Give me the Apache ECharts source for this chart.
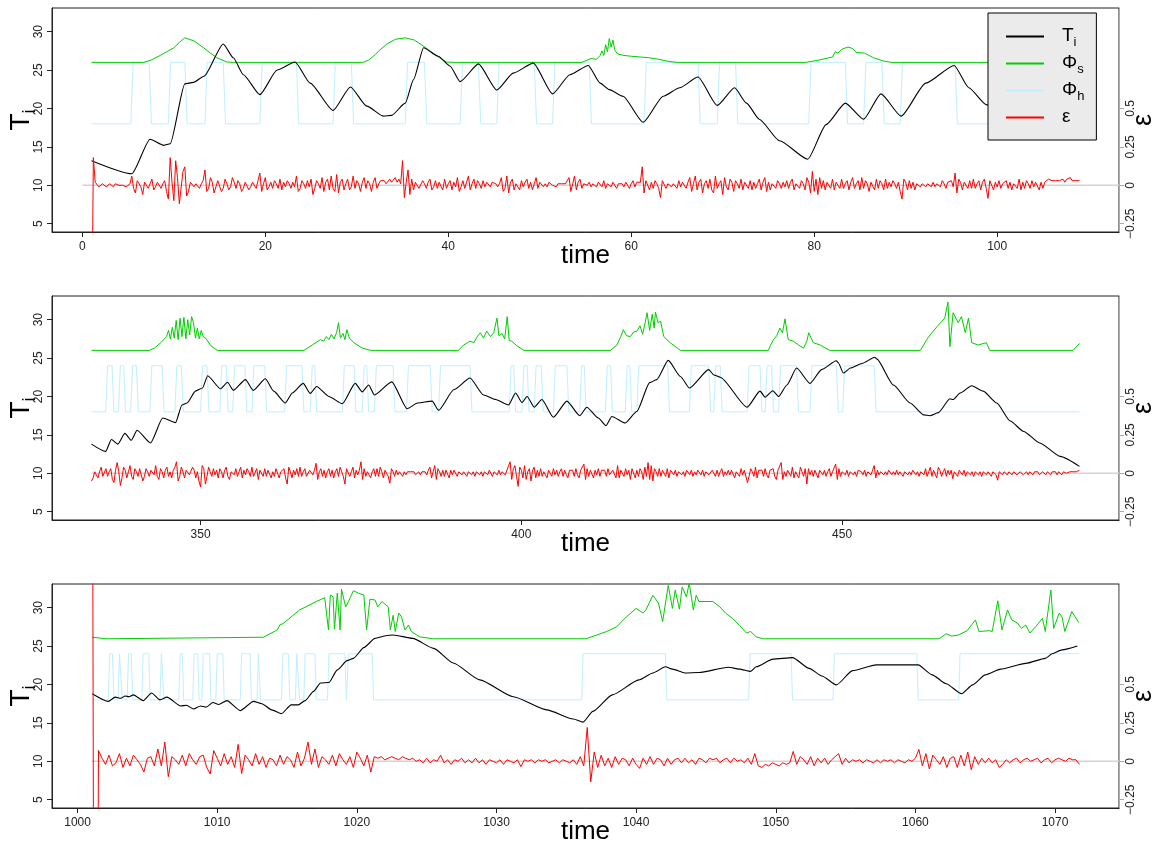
<!DOCTYPE html>
<html>
<head>
<meta charset="utf-8">
<title>Ti, Phi_s, Phi_h, eps</title>
<script src="https://cdn.jsdelivr.net/npm/echarts@6/dist/echarts.min.js"></script>
<style>
  html, body { margin: 0; background: #fff; }
  #chart { width: 1161px; height: 846px; }
</style>
</head>
<body>
<div id="chart"></div>
<script>
// ---- tick labels ----
const tiTicks = [5, 10, 15, 20, 25, 30];
const epsTicks = [-0.25, 0, 0.25, 0.5];
const timeTicks1 = [0, 20, 40, 60, 80, 100];
const timeTicks2 = [350, 400, 450];
const timeTicks3 = [1000, 1010, 1020, 1030, 1040, 1050, 1060, 1070];

// ---- panel 1 (time 1..109) ----
const ti1 = [[1,13.2],[5.4,11.5],[7.4,16.0],[8.9,15.2],[9.6,15.4],[11.2,23.2],[12.15,23.4],[13.3,24.2],[15.4,28.4],[16.5,26.6],[17.6,24.4],[19.4,21.8],[21.3,25.0],[23.25,26.05],[24.9,23.3],[27.4,19.75],[29.3,22.8],[31.1,20.3],[32.9,19.0],[33.8,19.1],[35.3,20.7],[36.2,23.75],[37.3,27.9],[38.9,26.8],[40.2,25.5],[41.3,23.5],[43.3,25.8],[45.3,22.4],[47.1,24.6],[49.3,25.9],[51.4,21.9],[53.3,24.4],[55.3,25.6],[56.6,23.3],[57.6,22.45],[59.1,21.6],[61.3,18.2],[63.5,21.6],[65.3,22.7],[67.3,24.1],[69.4,20.4],[71.3,22.7],[72.6,20.7],[74.0,18.6],[76.2,15.8],[79.3,13.4],[81.3,17.9],[83.4,20.7],[85.4,18.6],[87.3,21.9],[89.5,19.0],[92.2,23.3],[95.3,25.6],[96.9,22.7],[98.8,20.5],[102,18.5],[109,17.0]];
const phiS1 = [[1,26],[6.7,26],[7.5,26.3],[8.5,26.9],[10,27.9],[10.6,28.6],[11.2,29.2],[12.2,28.8],[13.2,27.95],[14,27.2],[14.7,26.6],[15.8,26.05],[16.5,26],[30.7,26],[31.3,26.3],[32.0,27.0],[32.5,27.6],[33.3,28.4],[34.2,29.0],[35.3,29.2],[36.3,28.9],[37.3,28.1],[38.2,27.3],[38.9,26.7],[39.8,26.05],[40.5,26],[54.6,26],[55.0,26.2],[55.6,26.5],[56.2,26.4],[56.6,26.9],[56.8,27.5],[57.0,26.9],[57.2,28.3],[57.4,27.4],[57.6,29.1],[57.8,28.0],[58.0,28.9],[58.2,27.6],[58.5,27.1],[59.2,26.9],[60,26.8],[61,26.7],[62,26.6],[63,26.4],[64,26.15],[65,26],[79.1,26],[80.5,26.3],[81.6,26.6],[82.0,26.7],[82.3,27.4],[82.6,27.2],[83.0,27.7],[83.7,28.0],[84.2,27.8],[84.6,27.3],[85.5,27.2],[86.5,26.6],[87.5,26.2],[88.4,26],[109,26]];
const heaterOn1 = [[5.3,7.3],[9.4,11.2],[13.4,15.4],[19.4,23.4],[27.4,29.4],[35.3,37.4],[41.3,43.3],[45.3,49.4],[51.4,55.4],[61.4,67.3],[69.4,71.4],[79.4,83.4],[85.4,87.4],[89.4,95.4]];
// residuals, one every 0.2 from t = 1
const eps1 = [-1.2,.18,.02,.01,-.01,0,.01,.01,-.01,0,
  .01,0,-.01,.01,.02,0,-.01,0,.01,-.01,
  0,.01,.06,-.02,-.05,.03,.04,-.01,-.06,.02,
  .03,-.02,.01,.04,-.03,-.01,.02,.03,-.02,.01,
  .03,-.04,-.09,.18,.02,-.1,.16,.05,-.12,-.13,
  .09,.12,-.07,-.04,.02,.03,-.01,.01,.02,-.02,
  .01,.03,.1,-.04,-.02,.05,.02,-.05,-.01,.03,
  .02,-.04,-.02,.04,.01,-.03,-.01,.05,.02,-.02,
  .03,.01,-.04,-.02,.02,.03,-.03,-.01,.02,.01,
  -.02,.03,.08,-.04,.01,.05,-.03,-.01,.02,-.02,
  .03,.01,-.02,.04,-.03,.02,-.01,.03,.01,-.02,
  .02,-.01,.06,-.04,-.02,.03,.01,-.02,.03,-.01,
  .04,-.06,-.02,.03,.01,-.02,.05,-.04,.02,.04,
  -.03,.06,-.02,-.04,.07,-.05,.02,.04,-.03,.01,
  .04,-.03,-.01,.06,-.02,.03,.01,-.04,.02,.05,
  -.02,.03,.01,-.04,.02,.05,-.02,.01,.03,.02,
  .03,.01,.02,.04,.02,.03,.05,.02,.04,.01,
  .16,-.08,.02,.1,-.06,.04,-.03,.02,.03,-.02,
  -.03,.03,.01,-.02,.02,.04,-.03,-.01,.03,-.02,
  .02,.01,-.03,.04,-.02,.01,.03,-.03,.02,-.01,
  .05,-.04,-.01,.03,-.02,.02,.06,-.03,.01,.04,
  -.02,.03,.01,-.02,.03,-.01,.02,.01,-.01,.02,
  .02,.01,-.01,.01,.05,-.04,-.02,.06,-.05,.02,
  .04,-.03,.01,.02,-.03,.03,-.01,.02,.04,-.02,
  .02,-.03,.01,.05,-.02,.02,.03,-.01,.01,-.01,
  .02,.01,0,.01,-.01,.01,0,.01,.02,.01,
  .02,.05,-.04,.01,.06,-.03,.02,.04,-.02,.01,
  .01,0,.02,-.01,.01,.02,-.01,.02,.01,-.01,
  .03,-.02,.01,.02,-.01,.02,.01,-.02,.01,.02,
  .01,-.01,.02,.01,-.02,.01,.03,-.01,.02,.01,
  .02,.12,-.05,.03,.04,-.03,.02,-.02,.03,.01,
  -.02,-.08,.03,.02,-.02,.01,.02,-.01,.01,.02,
  -.02,.03,-.01,.02,.01,-.02,.02,.05,-.04,.01,
  .06,-.03,.02,.04,-.05,.01,.03,-.02,.04,-.03,
  -.05,.06,-.02,.01,.03,-.06,.05,-.01,-.03,.04,
  .02,-.04,.03,.01,-.02,.04,-.03,.02,.01,-.02,
  .03,-.03,.02,-.02,.01,.04,-.03,.02,.05,-.04,
  .02,-.03,.01,.02,-.02,.03,.01,-.02,.02,-.01,
  .03,-.02,.02,.04,-.03,.01,.02,-.02,.03,.01,
  -.03,.05,.02,-.05,.09,-.04,.04,-.06,.05,-.02,
  .03,-.03,.02,.01,-.02,.04,-.03,.02,.03,-.02,
  .04,-.02,.01,.03,-.03,.02,.05,-.02,.01,.03,
  -.03,.05,-.02,.03,.01,-.04,.02,.03,-.03,.04,
  -.02,.03,.01,-.03,.04,-.02,.02,-.01,.03,.01,
  -.02,.02,-.04,-.09,.04,.02,-.03,.03,-.02,.02,
  -.03,.01,.02,-.01,.01,.02,-.01,.01,.02,-.01,
  .02,-.01,.01,.02,-.01,.03,.01,-.02,.02,.01,
  .03,-.01,.08,-.05,.04,.02,-.03,.02,.03,-.02,
  .03,-.02,.04,-.02,.01,.03,-.03,.02,.04,-.02,
  -.085,.03,.02,-.03,.02,-.01,.03,-.02,.01,.02,
  .03,-.02,.02,-.03,.01,.02,-.02,.04,-.03,.02,
  -.02,.03,.01,-.02,.03,-.01,.02,.01,-.03,.02,
  -.02,.02,.03,.04,.05,.03,.04,.03,.04,.03,
  .03,.04,.02,.04,.03,.05,.03,.04,.03,.03,
  .03];

// ---- panel 2 (time 333..487) ----
const ti2 = [[333,13.8],[335.2,12.85],[336.1,14.4],[337.1,13.8],[338.2,15.2],[339.2,14.3],[340.1,15.6],[342.2,13.95],[344.1,17.2],[346.1,16.6],[347.1,18.9],[347.9,19.15],[349.2,20.7],[350.3,21.1],[351.1,22.7],[353.1,21.0],[354.2,21.85],[355.1,20.8],[357.0,22.2],[358.2,20.8],[360.1,22.3],[361.4,20.7],[363.2,19.15],[364.3,20.45],[366.0,21.7],[367.1,20.4],[368.1,21.3],[370.0,20.0],[372.1,19.05],[374.1,21.7],[375.2,20.6],[376.2,21.5],[377.1,20.2],[379.8,21.9],[382.2,18.4],[383.8,19.15],[386.1,19.4],[387.1,18.2],[389.5,20.9],[392.0,22.4],[394.1,20.2],[396.0,19.6],[398.0,18.9],[399.1,20.45],[400.1,19.2],[400.9,20.0],[402.0,18.6],[403.2,19.6],[405.0,17.3],[407.1,19.4],[409.1,17.5],[410.2,18.6],[412.0,17.2],[413.2,16.2],[414.1,17.4],[416.2,16.55],[418.0,18.05],[420.0,21.8],[421.1,22.2],[422.9,24.7],[424.8,22.6],[426.2,21.1],[429.2,23.5],[430.0,22.8],[431.0,22.5],[435.2,18.6],[437.2,20.7],[438.0,19.9],[439.2,20.75],[440.1,20.0],[441.4,21.5],[442.9,23.7],[445.0,21.7],[446.8,23.5],[449.1,24.65],[449.4,24.4],[450.2,23.05],[451.3,23.7],[453.1,24.3],[455.1,25.1],[455.4,24.9],[458.0,21.5],[460.6,19.15],[462.7,17.6],[463.7,17.5],[465.0,17.9],[466.8,19.7],[467.3,19.6],[468.4,20.45],[470.2,21.4],[472.0,20.7],[474.1,19.15],[476.2,16.8],[478.3,15.45],[480.8,13.95],[484.0,12.2],[487.0,10.9]];
const phiS2 = [[333,26],[342.0,26],[342.8,26.3],[343.8,27.0],[344.7,27.8],[345.0,28.6],[345.3,27.5],[345.6,29.0],[345.9,27.6],[346.2,29.9],[346.5,27.4],[346.8,30.2],[347.1,27.8],[347.4,30.3],[347.7,27.5],[348.0,30.0],[348.3,28.0],[348.6,30.4],[348.9,29.6],[349.2,27.6],[349.5,28.9],[349.8,27.5],[350.1,28.6],[350.4,27.8],[350.8,27.6],[351.6,26.6],[352.6,26],
  [366.1,26],[367.4,26.7],[368.7,27.4],[369.2,27.2],[369.6,27.8],[370.0,27.4],[370.4,28.1],[370.8,27.5],[371.2,28.3],[371.5,29.6],[371.8,27.6],[372.2,28.2],[372.5,27.4],[372.8,28.7],[373.2,27.6],[373.9,27.0],[375.2,26.3],[376.5,26],
  [390.2,26],[391.0,26.7],[391.6,27.0],[392.0,27.2],[392.6,27.0],[393.2,27.9],[393.6,28.3],[394.1,27.6],[394.6,28.5],[395.2,27.8],[395.7,28.3],[396.2,30.2],[396.5,27.9],[397.0,28.2],[397.4,27.5],[397.8,30.4],[398.1,27.3],[398.5,27.2],[399.3,26.6],[400.4,26],
  [413.9,26],[414.9,26.7],[415.5,27.8],[415.9,28.7],[416.4,27.9],[417.0,27.8],[417.5,28.4],[418.0,28.5],[418.5,29.2],[418.9,28.1],[419.3,29.6],[419.6,30.9],[420.0,28.6],[420.4,30.7],[420.7,28.9],[420.9,31.0],[421.3,29.6],[421.7,29.8],[422.2,27.8],[423.2,27.0],[424.8,26],
  [438.5,26],[438.8,26.6],[439.3,27.4],[439.8,27.9],[440.3,28.9],[440.7,28.3],[441.1,30.1],[441.6,27.4],[442.4,27.2],[443.2,26.7],[444.0,26.3],[444.5,27.2],[444.8,28.3],[445.5,27.0],[446.6,26.7],[447.2,26.4],[448.1,26],
  [462.2,26],[463.2,27.4],[463.7,28.0],[464.8,29.1],[466.0,30.2],[466.5,32.3],[466.8,26.5],[467.3,30.9],[468.1,29.6],[468.6,30.4],[469.2,28.3],[469.7,30.2],[470.2,27.0],[471.2,26.7],[472.5,27.0],[473.0,26],[486.0,26],[487.0,26.9]];
const heaterOn2 = [[335.2,336.2],[337.2,338.0],[339.1,340.0],[342.1,344.0],[346.0,347.0],[350.0,351.0],[353.0,354.0],[355.0,356.9],[358.0,360.0],[363.1,365.8],[367.1,367.8],[372.1,373.9],[375.2,375.9],[377.1,380.0],[382.1,385.8],[387.1,392.0],[398.1,398.8],[400.1,400.9],[402.0,403.1],[405.0,407.1],[409.1,409.8],[413.1,413.9],[416.2,416.9],[418.0,422.8],[426.2,429.2],[430.0,431.0],[435.2,437.2],[438.0,439.0],[440.1,442.9],[445.0,449.1],[450.1,455.0]];
// residuals, one every 0.25 from t = 333
const eps2 = [-.05,-.03,.01,.02,-.03,.01,.04,-.02,-.01,.03,
  -.02,.01,.03,-.04,-.06,.02,.07,.01,-.08,-.03,
  .04,.02,-.03,.01,.05,-.02,-.04,.03,.01,-.02,
  .03,.04,-.05,-.02,.03,.01,-.02,.02,.03,-.01,
  .05,-.02,-.04,.03,.01,-.03,.02,.04,-.02,.01,
  -.03,.02,.04,.075,-.05,-.02,.04,.01,-.03,.02,
  .03,-.01,-.02,.04,.02,-.03,.01,-.05,-.09,.05,
  .03,-.07,-.02,.04,.01,-.02,.03,-.01,.02,-.03,
  .03,.01,-.03,.02,.04,-.02,-.04,.01,.02,-.01,
  .03,-.02,.01,.04,-.03,.02,-.01,.03,.01,-.02,
  .04,-.02,-.01,.03,-.04,.02,.01,-.02,.03,-.02,
  .02,.03,-.03,.01,-.02,.03,.02,-.03,.01,.02,
  .03,-.03,-.07,.04,.01,-.03,.02,-.01,.03,-.02,
  .04,-.02,.01,.03,-.02,-.03,.02,.03,-.01,.02,
  .065,-.04,.01,.03,-.02,.02,-.03,.01,.03,-.02,
  .02,-.03,.01,.03,-.02,.04,.01,-.02,-.07,.03,
  .03,-.02,.01,.04,-.03,.02,-.01,.02,.075,-.04,
  .03,-.02,.01,.02,-.03,.01,.03,-.02,.03,-.02,
  .04,.01,-.03,.02,.03,-.02,-.065,.03,.01,-.02,
  .02,-.01,.01,.02,-.02,.01,-.01,.01,0,.01,
  0,.01,-.01,0,.01,-.01,.01,0,.01,-.01,
  .02,.04,-.03,.01,.05,-.04,.03,.01,-.02,.02,
  -.02,.02,.01,-.03,.02,-.01,.02,.01,-.02,.01,
  .02,-.01,.01,.02,-.02,.01,.02,-.01,.01,-.02,
  .01,.02,-.01,.01,-.02,.01,.02,-.01,.02,.01,
  -.02,.01,.02,-.01,.02,-.01,.01,.02,-.01,.02,
  .02,.075,-.04,.03,.05,-.02,-.085,.04,.02,-.03,
  .05,-.04,.01,.03,-.05,.02,.04,-.03,.02,-.02,
  .03,-.02,.01,.02,-.03,.02,.01,-.02,.03,-.01,
  .02,-.02,.01,.03,-.02,.02,-.01,-.03,.02,.01,
  .02,-.02,.03,-.01,-.03,.02,.01,.06,-.04,.03,
  -.02,.02,.01,-.03,.02,-.01,.03,-.02,.02,.01,
  .02,-.02,.03,-.01,-.02,.02,.01,-.03,.05,-.03,
  .02,.01,-.02,.03,-.01,.02,-.04,.03,.04,-.03,
  .02,-.02,.03,.01,-.04,.04,-.02,.07,-.04,.05,
  -.05,.03,.01,-.02,.03,-.02,.02,.01,-.02,.03,
  -.03,.02,.01,-.01,.02,-.02,.01,.02,-.01,.01,
  -.02,.02,.01,-.01,.02,-.02,.01,-.01,.02,.01,
  -.01,.02,-.02,.01,.02,-.01,-.02,.02,.01,-.02,
  .02,-.02,.01,.03,-.02,.01,-.01,.02,-.01,.02,
  .02,-.03,.01,.02,-.02,.03,-.01,.02,.03,-.06,
  -.02,.03,.01,-.02,.04,-.03,.02,.01,.02,-.02,
  .03,-.01,-.03,.02,.01,.03,-.02,-.04,.02,.03,
  .07,-.04,.01,-.02,.02,.03,-.02,.04,-.03,.01,
  .02,-.03,.04,.01,-.02,.03,-.07,.03,-.01,.02,
  -.02,.02,.01,-.03,.02,.01,-.01,.02,-.02,.01,
  .03,-.02,.01,.02,.06,-.04,.03,-.02,.01,.02,
  -.01,.02,-.02,.01,.02,-.01,.01,-.02,.02,.01,
  .01,-.01,.02,-.02,.01,.02,-.01,.02,.05,-.03,
  .02,-.01,.01,.02,-.01,.01,-.01,.02,.01,-.01,
  .01,-.01,.02,-.01,.01,.01,-.02,.01,.02,-.01,
  .01,-.01,.02,.01,-.01,.01,-.02,.01,.02,-.01,
  .03,-.02,.01,.04,-.02,.02,.03,-.03,.04,.02,
  -.02,.01,.03,-.02,.02,-.01,.02,-.035,.01,.02,
  -.02,.02,.01,-.01,.02,-.02,.01,.02,-.01,.01,
  -.02,.01,.02,-.01,.01,-.02,.01,.02,-.01,.01,
  .01,-.02,.01,.02,-.01,-.045,.01,.02,-.01,.01,
  .01,-.01,.01,0,-.01,.01,.01,-.01,0,.01,
  .01,-.01,0,.01,-.01,.01,0,-.01,.01,0,
  .01,-.01,0,.01,0,-.01,.01,0,-.01,.01,
  0,.01,-.01,.01,0,-.01,.01,.01,0,.01,
  .01,0,.01,.02,.01,.01,.02];

// ---- panel 3 (time 1001..1071.75) ----
const ti3 = [[1001.05,18.8],[1002.2,17.8],[1002.7,18.35],[1003.1,18.2],[1003.4,18.5],[1003.7,18.4],[1004.0,18.65],[1004.7,17.9],[1005.3,18.9],[1005.9,18.0],[1006.4,18.35],[1007.4,17.2],[1007.8,17.3],[1008.3,16.8],[1008.8,17.2],[1009.2,17.05],[1009.7,17.65],[1010.1,17.4],[1010.7,17.9],[1011.65,16.6],[1012.6,17.8],[1013.2,17.5],[1013.9,16.7],[1014.6,16.2],[1015.3,17.35],[1015.8,17.35],[1016.3,17.9],[1016.9,19.1],[1017.4,20.2],[1018.0,20.25],[1018.6,21.9],[1019.3,23.1],[1019.75,23.4],[1020.5,24.8],[1021.3,26.0],[1022.1,26.35],[1022.6,26.45],[1024.0,26.0],[1025.5,24.7],[1026.9,22.8],[1028.8,20.6],[1031.2,18.4],[1033.6,16.7],[1035.5,15.5],[1036.2,15.1],[1036.9,16.5],[1038.3,18.65],[1040.2,20.6],[1041.2,21.5],[1042.1,22.3],[1042.6,22.0],[1043.5,21.5],[1044.5,21.55],[1046.6,22.25],[1047.4,22.0],[1048.2,21.7],[1048.6,22.3],[1049.8,23.3],[1051.2,23.5],[1052.4,22.1],[1053.3,21.1],[1054.35,19.95],[1055.5,21.8],[1057.2,22.55],[1058.35,22.55],[1060.2,22.55],[1061.2,21.25],[1062.2,20.1],[1063.3,18.8],[1064.1,19.95],[1065.0,21.25],[1066.1,22.0],[1067.9,22.75],[1069.3,23.4],[1069.8,24.0],[1070.5,24.5],[1071.6,25.0]];
const phiS3 = [[1001.05,26.15],[1002.1,25.95],[1013.3,26.15],[1014.3,27.1],[1014.5,27.8],[1014.7,27.9],[1015.9,29.7],[1017.1,30.8],[1017.7,31.3],[1017.97,27.1],[1018.1,31.65],[1018.3,31.4],[1018.4,27.2],[1018.6,31.9],[1018.8,27.1],[1018.9,32.4],[1019.04,32.3],[1019.2,30.1],[1019.4,30.8],[1019.75,32.2],[1020.1,31.9],[1020.5,31.65],[1020.7,27.1],[1020.94,31.1],[1021.3,31.0],[1021.5,30.1],[1021.8,30.8],[1022.25,30.1],[1022.4,27.1],[1022.6,29.0],[1022.75,26.9],[1023.0,29.3],[1023.2,28.8],[1023.45,27.1],[1023.7,27.75],[1023.9,26.9],[1024.5,26.2],[1025.5,25.95],
  [1036.4,25.95],[1037.9,26.9],[1038.6,27.5],[1039.3,28.8],[1040.0,29.9],[1040.5,29.3],[1040.7,29.7],[1041.2,31.6],[1041.6,30.6],[1041.9,28.2],[1042.3,32.9],[1042.6,29.9],[1042.8,32.3],[1043.1,29.8],[1043.3,32.7],[1043.6,31.4],[1043.8,33.2],[1044.1,29.7],[1044.3,31.6],[1044.5,30.8],[1045.5,30.8],[1046.0,30.1],[1046.4,29.3],[1046.9,28.6],[1047.4,27.7],[1047.9,26.7],[1048.2,26.9],[1048.6,26.2],[1049.1,25.95],
  [1061.7,25.95],[1062.2,26.6],[1062.6,26.3],[1063.1,26.45],[1063.7,27.0],[1064.3,28.4],[1064.55,26.9],[1065.3,27.0],[1065.5,26.9],[1065.9,30.9],[1066.2,27.1],[1066.6,29.7],[1066.9,28.4],[1067.3,28.0],[1067.6,27.3],[1067.9,27.75],[1068.2,26.7],[1068.6,27.5],[1069.1,28.6],[1069.3,26.9],[1069.7,32.3],[1069.9,27.3],[1070.3,29.3],[1070.5,28.8],[1070.7,26.9],[1071.2,29.5],[1071.7,28.05]];
const heaterOn3 = [[1002.2,1002.5],[1002.9,1003.1],[1003.55,1003.85],[1004.6,1005.1],[1005.9,1006.1],[1007.25,1007.5],[1008.25,1008.6],[1008.9,1009.45],[1009.9,1010.4],[1011.65,1012.35],[1012.85,1013.0],[1014.6,1015.1],[1015.6,1015.8],[1016.2,1017.0],[1017.9,1019.15],[1019.3,1021.1],[1036.1,1042.1],[1048.06,1051.1],[1054.1,1060.1],[1063.1,1071.75]];
// residuals, one every 0.25 from t = 1001
const eps3 = [5,-5,.07,.02,-.02,.04,-.03,-.01,.05,-.04,
  .02,-.03,.04,.01,-.02,-.07,.02,.03,-.03,.08,
  -.03,.125,-.1,.03,.01,-.02,.04,-.03,.05,.01,
  -.02,.03,.04,-.04,-.083,.07,.02,-.03,.05,-.02,
  .03,-.04,.11,-.08,.04,.01,-.03,.05,-.02,.03,
  -.04,.02,.01,-.03,.04,-.02,.03,.01,-.04,.06,
  -.03,.02,.125,-.02,.08,-.04,.03,.01,-.02,.04,
  -.03,.05,.01,-.02,.03,-.04,.06,.02,-.03,.04,
  -.07,.03,.02,.03,.01,.02,.03,.02,.01,.03,
  .02,.01,.02,0,.01,-.01,.02,-.01,.01,0,
  .04,-.01,.01,-.02,.01,0,.02,-.01,.01,-.01,
  .02,-.01,.01,-.02,.01,0,-.01,.01,-.02,.01,
  0,-.01,.01,-.035,.01,0,.01,-.01,.01,0,
  .01,-.01,0,.01,-.01,.01,0,-.01,.01,-.02,
  .03,-.03,.22,-.134,.06,-.04,.04,-.03,.02,-.04,
  .03,-.02,.02,.01,-.03,.02,-.02,-.046,.02,-.02,
  .03,-.02,.02,.01,-.03,.02,-.02,.01,.02,-.01,
  .02,-.01,.01,-.02,.02,.01,-.01,.02,.01,.02,
  -.01,.01,.02,-.01,.02,0,.01,-.01,.02,-.02,
  .05,-.03,-.04,-.02,-.03,-.01,-.02,-.03,-.01,-.02,
  -.01,.064,-.02,.03,.01,-.02,.03,-.03,.02,-.01,
  .02,-.02,.01,.03,.05,-.02,.02,-.01,.01,0,
  .01,-.01,.01,0,-.01,.01,-.01,.01,0,.01,
  -.01,.01,0,-.01,.01,0,.02,.077,-.03,.05,
  -.05,.04,.01,-.02,.03,-.04,.02,.03,-.04,.04,
  -.03,.06,-.055,.03,-.02,.02,-.01,.02,-.01,.01,
  -.04,-.02,.01,-.01,.01,.02,-.01,.01,.02,0,
  .01,.02,-.01,.01,.02,-.01,.01,.02,.01,0,
  .02,.01,.01,-.02];

// ---- building the panels ----
const fam = "'Liberation Sans', Arial, Helvetica, sans-serif";

// heater signal: low/high levels, switching ramps of width d
function heaterLine(on, t0, t1, lo, hi, d) {
  const pts = [[t0, lo]];
  let endHigh = false;
  on.forEach(([a, b]) => {
    pts.push([a, lo], [a + d, hi]);
    if (b >= t1) { pts.push([t1, hi]); endHigh = true; }
    else pts.push([b, hi], [b + d, lo]);
  });
  if (!endHigh) pts.push([t1, lo]);
  return pts;
}
const seq = (t0, dt, vals) => vals.map((v, i) => [+(t0 + i * dt).toFixed(3), v]);

const panels = [
  { top: 8,   xr: [-3.32, 113.32], ticks: timeTicks1, ti: ti1, phiS: phiS1,
    phiH: heaterLine(heaterOn1, 1, 109, 18, 26, 0.25), eps: seq(1, 0.2, eps1), zeroFrom: 0 },
  { top: 296, xr: [326.84, 493.16], ticks: timeTicks2, ti: ti2, phiS: phiS2,
    phiH: heaterLine(heaterOn2, 333, 487, 18, 24, 0.3), eps: seq(333, 0.25, eps2), zeroFrom: 333 },
  { top: 584, xr: [998.17, 1074.58], ticks: timeTicks3, ti: ti3, phiS: phiS3,
    phiH: heaterLine(heaterOn3, 1001.05, 1071.75, 18, 24, 0.1), eps: seq(1001, 0.25, eps3), zeroFrom: 1001 }
];

const grid = [], xAxis = [], yAxis = [], series = [];
panels.forEach((p, k) => {
  grid.push({ left: 52, right: 42, top: p.top, height: 224, containLabel: false, outerBoundsMode: 'none',
    show: true, borderColor: '#222', borderWidth: 1 });
  xAxis.push({
    type: 'value', gridIndex: k, min: p.xr[0], max: p.xr[1],
    axisLine: { show: true, onZero: false, lineStyle: { color: '#222', width: 1 } },
    axisTick: { show: true, length: 5, customValues: p.ticks, lineStyle: { color: '#222' } },
    axisLabel: { customValues: p.ticks, fontSize: 12, fontFamily: fam, color: '#222', margin: 9, formatter: v => String(v) },
    splitLine: { show: false },
    name: 'time', nameLocation: 'middle', nameGap: 11, nameMoveOverlap: false,
    nameTextStyle: { fontSize: 26, fontFamily: fam, color: '#000' }
  });
  yAxis.push({
    type: 'value', gridIndex: k, min: 3.92, max: 33.08,
    axisLine: { show: true, onZero: false, lineStyle: { color: '#222' } },
    axisTick: { show: true, length: 5, customValues: tiTicks, lineStyle: { color: '#222' } },
    axisLabel: { customValues: tiTicks, rotate: 90, fontSize: 12, fontFamily: fam, color: '#222', margin: 7 },
    splitLine: { show: false },
    name: '{b|T}{s|i}', nameLocation: 'middle', nameRotate: 90, nameGap: 17, nameMoveOverlap: false,
    nameTextStyle: {
      color: '#000',
      rich: {
        b: { fontSize: 28, fontFamily: fam, color: '#000', lineHeight: 28, verticalAlign: 'top' },
        s: { fontSize: 18, fontFamily: fam, color: '#000', lineHeight: 18, padding: [14, 0, 0, 0], verticalAlign: 'top' }
      }
    }
  });
  yAxis.push({
    type: 'value', gridIndex: k, position: 'right', min: -0.304, max: 1.154,
    axisLine: { show: true, onZero: false, lineStyle: { color: '#aaa' } },
    axisTick: { show: true, length: 5, customValues: epsTicks, lineStyle: { color: '#aaa' } },
    axisLabel: {
      customValues: epsTicks, rotate: 90, fontSize: 12, fontFamily: fam, color: '#222', margin: 6,
      formatter: v => (v < 0 ? '\u2212' + (-v) : String(v))
    },
    splitLine: { show: false },
    name: 'ε', nameLocation: 'middle', nameRotate: 90, nameGap: 11, nameMoveOverlap: false,
    nameTextStyle: { fontSize: 27, fontFamily: fam, color: '#000' }
  });
  const base = { type: 'line', xAxisIndex: k, showSymbol: false, symbol: 'none', animation: false, silent: true };
  series.push(
    Object.assign({}, base, { name: 'Φh', yAxisIndex: 2 * k, color: '#BFEFFF', lineStyle: { width: 1, color: '#BFEFFF' }, data: p.phiH }),
    Object.assign({}, base, { name: 'Φs', yAxisIndex: 2 * k, color: '#00CD00', lineStyle: { width: 1, color: '#00CD00' }, data: p.phiS }),
    Object.assign({}, base, { name: 'Ti', yAxisIndex: 2 * k, color: '#000', lineStyle: { width: 1.1, color: '#000' },
      smooth: 0.2, smoothMonotone: 'x', data: p.ti }),
    Object.assign({}, base, { name: 'zero', yAxisIndex: 2 * k + 1, color: '#d3d3d3', lineStyle: { width: 1.6, color: '#d3d3d3' },
      data: [[p.zeroFrom, 0], [p.xr[1], 0]] }),
    Object.assign({}, base, { name: 'ε', yAxisIndex: 2 * k + 1, color: '#FF0000', lineStyle: { width: 1, color: '#FF0000' }, data: p.eps })
  );
});

const legendText = { 'Ti': '{b|T}{s|i}', 'Φs': '{b|Φ}{s|s}', 'Φh': '{b|Φ}{s|h}', 'ε': '{b|ε}' };

const chart = echarts.init(document.getElementById('chart'), null, { renderer: 'canvas' });
chart.setOption({
  animation: false,
  backgroundColor: '#fff',
  grid, xAxis, yAxis, series,
  legend: {
    data: ['Ti', 'Φs', 'Φh', 'ε'],
    orient: 'vertical', left: 988, top: 13,
    padding: [13, 12, 14, 18], itemGap: 4,
    itemWidth: 38, itemHeight: 2, icon: 'rect',
    backgroundColor: '#ebebeb', borderColor: '#000', borderWidth: 1,
    selectedMode: false,
    formatter: n => legendText[n],
    textStyle: {
      padding: [0, 0, 0, 13],
      rich: {
        b: { fontSize: 19, fontFamily: fam, color: '#000', lineHeight: 21, verticalAlign: 'top' },
        s: { fontSize: 13, fontFamily: fam, color: '#000', lineHeight: 13, padding: [10, 0, 0, 0], verticalAlign: 'top' }
      }
    }
  }
});
</script>
</body>
</html>
